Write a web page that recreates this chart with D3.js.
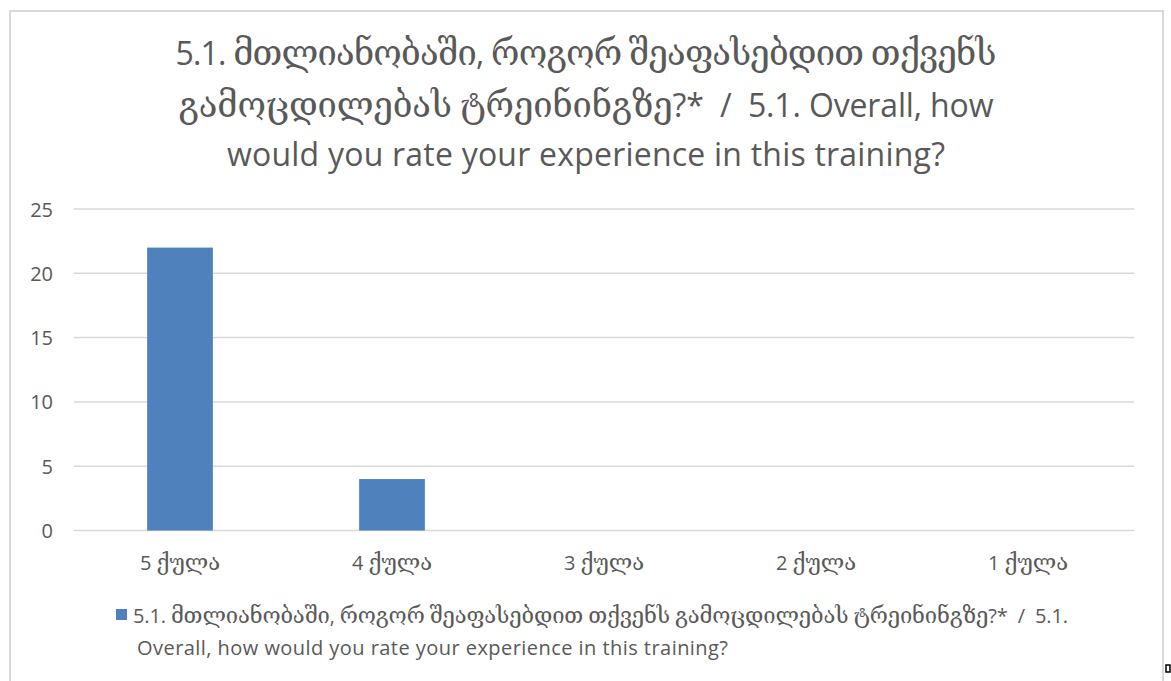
<!DOCTYPE html>
<html>
<head>
<meta charset="utf-8">
<script src="https://cdn.jsdelivr.net/npm/d3@7"></script>
<style>
  body { margin: 0; background: #fff; }
  text { font-family: "Open Sans", "DejaVu Sans", sans-serif; fill: #595959; white-space: pre; }
  tspan.geo { font-family: "DejaVu Serif", "DejaVu Sans", serif; }
</style>
</head>
<body>
<svg width="1171" height="681"></svg>
<script>
// data
var categories = ['5 ქულა', '4 ქულა', '3 ქულა', '2 ქულა', '1 ქულა'];
var values = [22, 4, 0, 0, 0];
var yTicks = [0, 5, 10, 15, 20, 25];
var titleLines = [
  '5.1. მთლიანობაში, როგორ შეაფასებდით თქვენს',
  'გამოცდილებას ტრეინინგზე?*  /  5.1. Overall, how',
  'would you rate your experience in this training?'
];
var legendLines = [
  '5.1. მთლიანობაში, როგორ შეაფასებდით თქვენს გამოცდილებას ტრეინინგზე?*  /  5.1.',
  'Overall, how would you rate your experience in this training?'
];

var svg = d3.select('svg');

// splits a string into georgian / other runs, georgian a bit bigger
function runs(sel, scale) {
  sel.each(function(d) {
    var t = d3.select(this);
    var parts = d.match(/[\u10A0-\u10FF]+|[^\u10A0-\u10FF]+/g);
    parts.forEach(function(p) {
      var geo = /[\u10A0-\u10FF]/.test(p);
      var ts = t.append('tspan').text(p);
      if (geo) ts.attr('class', 'geo').style('font-size', scale + 'em');
    });
  });
}

// chart frame
svg.append('rect')
  .attr('x', 10).attr('y', 11)
  .attr('width', 1153).attr('height', 700)
  .attr('fill', 'none')
  .attr('stroke', '#d9d9d9')
  .attr('stroke-width', 2);

// title (widths fitted to the original)
var titleW = [821, 815, 718];
var titleY = [65, 117, 166];
svg.append('g').selectAll('text')
  .data(titleLines)
  .enter().append('text')
  .attr('x', 586)
  .attr('y', (d, i) => titleY[i])
  .attr('text-anchor', 'middle')
  .attr('textLength', (d, i) => titleW[i])
  .attr('lengthAdjust', 'spacing')
  .style('font-size', '32px')
  .call(runs, 1.08);

var x = d3.scaleBand()
  .domain(categories)
  .range([74, 1134])
  .paddingInner(0.69)
  .paddingOuter(0.345);

var y = d3.scaleLinear()
  .domain([0, 25])
  .range([530.5, 209]);

// gridlines
svg.append('g').selectAll('line')
  .data(yTicks)
  .enter().append('line')
  .attr('x1', 74).attr('x2', 1134)
  .attr('y1', d => y(d)).attr('y2', d => y(d))
  .attr('stroke', '#d9d9d9')
  .attr('stroke-width', 1.5);

// y labels
svg.append('g').selectAll('text')
  .data(yTicks)
  .enter().append('text')
  .attr('x', 53)
  .attr('y', d => y(d) + 7.5)
  .attr('text-anchor', 'end')
  .style('font-size', '20px')
  .text(d => d);

// bars
svg.append('g').selectAll('rect')
  .data(values)
  .enter().append('rect')
  .attr('x', (d, i) => x(categories[i]))
  .attr('width', x.bandwidth())
  .attr('y', d => y(d))
  .attr('height', d => y(0) - y(d))
  .attr('fill', '#4f81bd');

// category labels
svg.append('g').selectAll('text')
  .data(categories)
  .enter().append('text')
  .attr('x', d => x(d) + x.bandwidth() / 2)
  .attr('y', 570)
  .attr('text-anchor', 'middle')
  .style('font-size', '20px')
  .call(runs, 1.1);

// legend
svg.append('rect')
  .attr('x', 116).attr('y', 609)
  .attr('width', 11).attr('height', 11)
  .attr('fill', '#4f81bd');

var legendW = [935, 591];
svg.append('g').selectAll('text')
  .data(legendLines)
  .enter().append('text')
  .attr('x', (d, i) => i == 0 ? 133 : 137)
  .attr('y', (d, i) => 623 + i * 32)
  .attr('textLength', (d, i) => legendW[i])
  .attr('lengthAdjust', 'spacing')
  .style('font-size', '20px')
  .call(runs, 1.1);

// little marker at bottom right
svg.append('rect')
  .attr('x', 1166).attr('y', 665)
  .attr('width', 4).attr('height', 7)
  .attr('fill', '#fff')
  .attr('stroke', '#000')
  .attr('stroke-width', 1.5);
</script>
</body>
</html>
